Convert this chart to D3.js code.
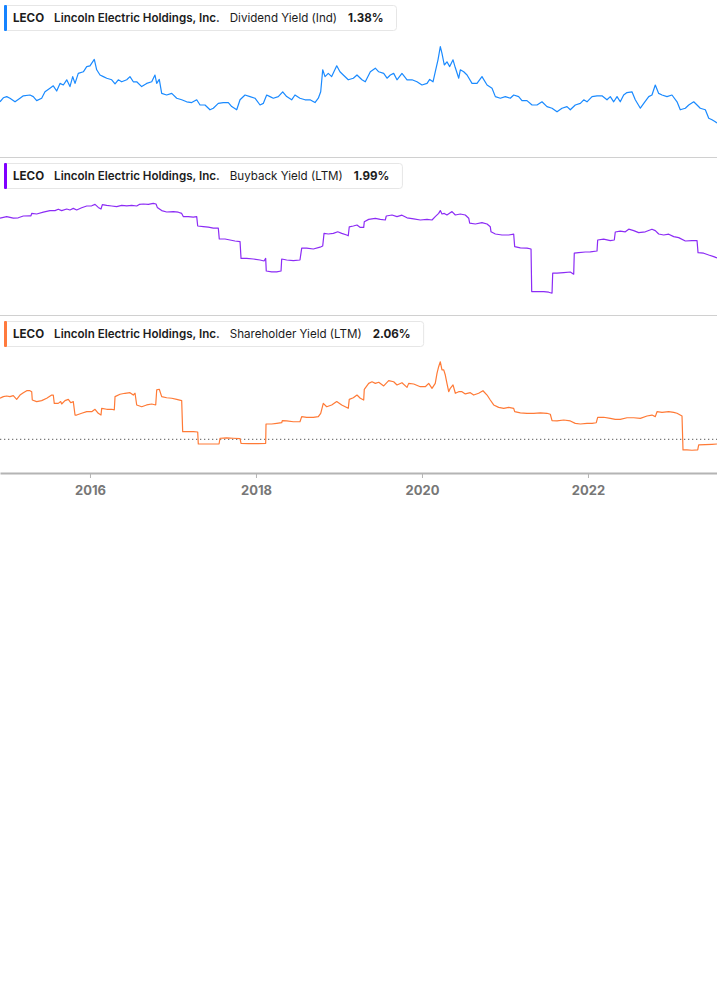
<!DOCTYPE html>
<html>
<head>
<meta charset="utf-8">
<script src="https://cdn.jsdelivr.net/npm/d3@7"></script>
<style>
html,body{margin:0;padding:0;background:#fff;}
svg{display:block;}
text{font-family:Inter,Roboto,"Noto Sans",sans-serif;}
</style>
</head>
<body>
<div id="chart"></div>
<script>
// ---------- DATA ----------
const ticker = "LECO";
const company = "Lincoln Electric Holdings, Inc.";
const metricNames = ["Dividend Yield (Ind)", "Buyback Yield (LTM)", "Shareholder Yield (LTM)"];
const latestValues = ["1.38%", "1.99%", "2.06%"];
const tickYears = [2016, 2018, 2020, 2022];
const xDomain = [2014.916, 2023.5545];

const divYears = [2014.916,2014.956,2014.997,2015.036,2015.097,2015.157,2015.197,2015.277,2015.317,2015.358,2015.418,2015.458,2015.518,2015.558,2015.599,2015.639,2015.679,2015.720,2015.759,2015.792,2015.820,2015.859,2015.920,2015.961,2016.000,2016.052,2016.081,2016.121,2016.161,2016.202,2016.262,2016.302,2016.341,2016.382,2016.443,2016.482,2016.522,2016.563,2016.623,2016.683,2016.744,2016.783,2016.804,2016.835,2016.864,2016.924,2016.985,2017.045,2017.105,2017.165,2017.226,2017.286,2017.326,2017.386,2017.446,2017.486,2017.546,2017.606,2017.667,2017.708,2017.768,2017.808,2017.868,2017.928,2017.988,2018.049,2018.088,2018.129,2018.169,2018.209,2018.269,2018.322,2018.370,2018.430,2018.470,2018.530,2018.591,2018.651,2018.711,2018.751,2018.780,2018.804,2018.832,2018.871,2018.912,2018.973,2019.012,2019.052,2019.112,2019.173,2019.217,2019.277,2019.317,2019.378,2019.438,2019.479,2019.539,2019.579,2019.619,2019.659,2019.699,2019.759,2019.820,2019.880,2019.940,2020.000,2020.061,2020.093,2020.133,2020.160,2020.193,2020.221,2020.241,2020.269,2020.301,2020.334,2020.374,2020.402,2020.443,2020.462,2020.503,2020.543,2020.603,2020.663,2020.723,2020.784,2020.844,2020.884,2020.944,2021.004,2021.064,2021.105,2021.165,2021.205,2021.265,2021.326,2021.386,2021.446,2021.506,2021.567,2021.627,2021.687,2021.747,2021.787,2021.847,2021.908,2021.949,2021.988,2022.049,2022.109,2022.169,2022.229,2022.269,2022.310,2022.350,2022.389,2022.430,2022.470,2022.530,2022.570,2022.631,2022.672,2022.732,2022.771,2022.811,2022.852,2022.892,2022.952,2023.012,2023.073,2023.112,2023.173,2023.214,2023.274,2023.314,2023.353,2023.414,2023.455,2023.494,2023.534,2023.554];
const divYield = [1.91,2.01,2.04,2.00,1.91,2.00,2.06,2.08,2.04,1.94,2.00,2.16,2.25,2.31,2.18,2.37,2.33,2.46,2.29,2.54,2.37,2.62,2.66,2.79,2.81,2.97,2.71,2.58,2.54,2.50,2.46,2.36,2.46,2.41,2.46,2.54,2.41,2.41,2.29,2.37,2.41,2.58,2.37,2.47,2.12,2.08,2.12,2.00,1.96,1.91,1.89,1.96,1.83,1.83,1.71,1.75,1.87,1.89,1.89,1.79,1.71,1.96,2.08,2.04,2.00,1.83,1.87,2.08,2.04,2.00,2.04,2.16,2.04,1.96,2.08,2.00,1.96,1.96,1.89,2.00,2.16,2.71,2.54,2.62,2.54,2.81,2.66,2.58,2.46,2.50,2.58,2.46,2.41,2.66,2.75,2.66,2.62,2.50,2.58,2.62,2.46,2.62,2.46,2.46,2.41,2.33,2.37,2.47,2.41,2.66,2.96,3.29,3.12,2.83,2.91,2.79,2.96,2.76,2.50,2.71,2.66,2.58,2.37,2.37,2.54,2.33,2.25,2.04,2.00,2.04,2.00,2.08,2.04,1.94,1.94,1.83,1.83,1.91,1.79,1.75,1.66,1.75,1.79,1.71,1.83,1.87,1.96,1.91,2.04,2.06,2.06,1.96,2.04,1.91,2.04,1.91,2.08,2.14,2.16,1.96,1.75,1.87,2.04,2.08,2.33,2.12,2.08,2.04,2.08,1.91,1.71,1.75,1.83,1.91,1.83,1.75,1.71,1.50,1.46,1.41,1.38];

const buyYears = [2014.916,2014.997,2015.076,2015.136,2015.197,2015.277,2015.289,2015.298,2015.358,2015.438,2015.518,2015.579,2015.618,2015.659,2015.720,2015.759,2015.799,2015.840,2015.900,2015.961,2016.021,2016.061,2016.100,2016.133,2016.149,2016.202,2016.262,2016.322,2016.382,2016.443,2016.503,2016.563,2016.594,2016.643,2016.703,2016.763,2016.796,2016.811,2016.864,2016.924,2017.004,2017.064,2017.105,2017.124,2017.185,2017.245,2017.286,2017.298,2017.365,2017.426,2017.486,2017.546,2017.558,2017.627,2017.687,2017.747,2017.808,2017.820,2017.888,2017.968,2018.049,2018.097,2018.117,2018.124,2018.189,2018.250,2018.302,2018.310,2018.370,2018.450,2018.530,2018.551,2018.611,2018.691,2018.772,2018.804,2018.820,2018.872,2018.932,2018.985,2019.033,2019.093,2019.112,2019.124,2019.173,2019.217,2019.257,2019.298,2019.305,2019.358,2019.438,2019.498,2019.558,2019.570,2019.639,2019.699,2019.759,2019.820,2019.900,2019.980,2020.061,2020.121,2020.160,2020.201,2020.221,2020.241,2020.269,2020.301,2020.362,2020.402,2020.462,2020.522,2020.563,2020.575,2020.643,2020.723,2020.784,2020.823,2020.832,2020.884,2020.964,2021.045,2021.105,2021.117,2021.185,2021.265,2021.314,2021.322,2021.386,2021.467,2021.527,2021.567,2021.575,2021.627,2021.708,2021.787,2021.828,2021.835,2021.888,2021.968,2022.028,2022.109,2022.117,2022.189,2022.269,2022.317,2022.329,2022.389,2022.450,2022.491,2022.551,2022.611,2022.691,2022.771,2022.811,2022.852,2022.912,2022.973,2023.033,2023.093,2023.173,2023.253,2023.314,2023.326,2023.394,2023.455,2023.515,2023.554];
const buybackYield = [3.98,4.06,3.98,4.00,4.09,4.10,4.10,4.22,4.19,4.28,4.36,4.36,4.43,4.36,4.44,4.39,4.47,4.39,4.50,4.59,4.60,4.67,4.52,4.44,4.66,4.62,4.59,4.56,4.62,4.60,4.62,4.59,4.67,4.69,4.67,4.72,4.69,4.52,4.36,4.29,4.31,4.28,4.22,4.06,4.06,4.03,4.06,3.59,3.56,3.53,3.48,3.49,2.94,2.94,2.89,2.84,2.81,1.97,1.97,1.94,1.89,1.84,1.97,1.34,1.30,1.30,1.34,1.94,1.89,1.86,1.89,2.48,2.48,2.44,2.53,2.59,3.22,3.19,3.22,3.30,3.22,3.14,3.10,3.55,3.59,3.64,3.52,3.52,3.80,3.92,3.97,3.92,3.89,4.09,4.14,4.06,4.13,4.00,3.95,3.89,3.92,3.89,4.06,4.22,4.36,4.19,4.22,4.14,4.31,4.14,4.19,4.14,3.98,3.73,3.69,3.76,3.69,3.55,3.30,3.19,3.14,3.14,3.18,2.56,2.50,2.48,2.44,0.31,0.31,0.31,0.28,0.23,1.23,1.23,1.26,1.29,1.18,2.23,2.26,2.29,2.30,2.34,2.89,2.93,2.86,2.89,3.29,3.33,3.30,3.43,3.36,3.26,3.30,3.43,3.36,3.19,3.14,3.18,3.06,3.01,2.84,2.86,2.86,2.26,2.23,2.14,2.06,1.99];

const shYears = [2014.916,2014.956,2014.997,2015.036,2015.076,2015.117,2015.157,2015.197,2015.238,2015.277,2015.298,2015.305,2015.358,2015.418,2015.479,2015.539,2015.558,2015.570,2015.618,2015.647,2015.659,2015.699,2015.739,2015.768,2015.799,2015.820,2015.840,2015.900,2015.961,2016.021,2016.061,2016.100,2016.133,2016.141,2016.202,2016.262,2016.293,2016.302,2016.362,2016.422,2016.482,2016.522,2016.543,2016.563,2016.623,2016.683,2016.744,2016.792,2016.804,2016.835,2016.864,2016.924,2016.985,2017.045,2017.105,2017.117,2017.185,2017.245,2017.298,2017.305,2017.365,2017.486,2017.555,2017.567,2017.647,2017.727,2017.808,2017.820,2017.908,2018.028,2018.117,2018.121,2018.189,2018.250,2018.310,2018.317,2018.370,2018.450,2018.530,2018.551,2018.611,2018.691,2018.751,2018.780,2018.811,2018.852,2018.912,2018.973,2019.033,2019.112,2019.124,2019.173,2019.217,2019.257,2019.298,2019.305,2019.358,2019.398,2019.438,2019.479,2019.539,2019.599,2019.659,2019.699,2019.759,2019.820,2019.840,2019.900,2019.980,2020.040,2020.081,2020.121,2020.160,2020.181,2020.201,2020.221,2020.241,2020.262,2020.281,2020.301,2020.322,2020.341,2020.374,2020.402,2020.443,2020.482,2020.522,2020.582,2020.623,2020.683,2020.735,2020.784,2020.823,2020.864,2020.924,2020.985,2021.045,2021.105,2021.117,2021.185,2021.265,2021.346,2021.426,2021.506,2021.546,2021.567,2021.627,2021.708,2021.787,2021.847,2021.908,2021.988,2022.049,2022.100,2022.117,2022.189,2022.269,2022.329,2022.389,2022.470,2022.551,2022.631,2022.711,2022.771,2022.811,2022.832,2022.892,2022.973,2023.033,2023.073,2023.133,2023.145,2023.193,2023.253,2023.322,2023.334,2023.414,2023.494,2023.554];
const shareholderYield = [4.92,5.02,5.06,5.02,5.08,4.85,5.12,5.26,5.39,5.39,5.33,4.81,4.71,4.77,4.92,5.12,5.12,4.60,4.60,4.71,4.56,4.77,4.85,4.64,4.71,3.87,3.87,3.98,4.08,4.08,4.23,3.98,3.87,4.29,4.23,4.23,4.19,5.02,5.17,5.23,5.27,5.12,5.23,4.50,4.39,4.50,4.56,4.50,5.44,5.48,5.02,4.95,4.92,4.85,4.77,2.83,2.83,2.83,2.81,2.06,2.06,2.06,2.06,2.42,2.44,2.42,2.39,2.10,2.08,2.08,2.10,3.31,3.31,3.35,3.39,3.52,3.50,3.45,3.45,3.77,3.73,3.73,3.77,3.98,4.60,4.39,4.50,4.71,4.50,4.29,4.85,4.95,5.12,4.92,4.81,5.48,5.85,5.95,5.85,5.92,5.69,6.02,5.95,5.75,5.89,5.60,5.85,5.81,5.64,5.64,5.85,5.54,5.85,6.48,6.89,7.20,6.69,6.69,6.37,5.85,5.33,5.54,5.75,5.23,5.33,5.33,5.19,5.27,5.12,5.23,5.39,5.12,4.81,4.50,4.35,4.29,4.35,4.29,4.08,4.01,3.98,3.98,4.01,3.98,3.92,3.52,3.50,3.56,3.50,3.35,3.31,3.35,3.35,3.39,3.73,3.73,3.66,3.60,3.60,3.70,3.70,3.66,3.81,3.87,3.77,4.08,4.04,4.08,4.04,3.98,3.81,1.69,1.69,1.67,1.69,2.00,2.02,2.04,2.06];
const shareholderRef = 2.35;

// ---------- RENDER ----------
const W = 717, H = 1005;
const svg = d3.select("#chart").append("svg").attr("width", W).attr("height", H);

const x = d3.scaleLinear().domain(xDomain).range([0, W]);

const panels = [
  {top: 0, color: "#1a8aff", bar: "#1583ff", years: divYears, vals: divYield, y: d3.scaleLinear().domain([0.555, 3.605]).range([156, 34])},
  {top: 158, color: "#8c2cf5", bar: "#8000ff", years: buyYears, vals: buybackYield, y: d3.scaleLinear().domain([-0.71, 5.24]).range([312, 193])},
  {top: 316, color: "#ff7a36", bar: "#ff7a3d", years: shYears, vals: shareholderYield, y: d3.scaleLinear().domain([0.3725, 7.935]).range([471, 350])}
];

// separators
[157.5, 315.5].forEach(yy => {
  svg.append("line").attr("x1", 0).attr("x2", W).attr("y1", yy).attr("y2", yy)
    .attr("stroke", "#d0d0d0").attr("stroke-width", 1);
});

panels.forEach((p, i) => {
  const clipId = "clip" + i;
  svg.append("clipPath").attr("id", clipId).append("rect")
    .attr("x", 0).attr("y", p.top + 32).attr("width", W).attr("height", 125);

  if (i === 2) {
    svg.append("line").attr("x1", 0).attr("x2", W)
      .attr("y1", p.y(shareholderRef)).attr("y2", p.y(shareholderRef))
      .attr("stroke", "#7a7a7a").attr("stroke-width", 1.2).attr("stroke-dasharray", "1.3,2.7");
  }

  const pts = p.years.map((yr, k) => [yr, p.vals[k]]);
  const line = d3.line().x(d => x(d[0])).y(d => p.y(d[1]));
  svg.append("path").datum(pts)
    .attr("clip-path", `url(#${clipId})`)
    .attr("d", line).attr("fill", "none")
    .attr("stroke", p.color).attr("stroke-width", 1.2).attr("stroke-linejoin", "round");

  // legend
  const g = svg.append("g").attr("transform", `translate(0,${p.top + 5})`);
  const box = g.append("rect").attr("x", 4.5).attr("y", 0.5).attr("height", 25).attr("rx", 3)
    .attr("fill", "#fff").attr("stroke", "#e6e6e6");
  g.append("rect").attr("x", 4).attr("y", 0).attr("width", 3).attr("height", 26).attr("rx", 1).attr("fill", p.bar);
  const parts = [
    {t: ticker, w: 700},
    {t: company, w: 600},
    {t: metricNames[i], w: 400},
    {t: latestValues[i], w: 700}
  ];
  let cx = 13;
  parts.forEach((pt, k) => {
    const tx = g.append("text").attr("x", cx).attr("y", 16.5)
      .attr("font-size", "11.6px").attr("font-weight", pt.w).attr("fill", "#1c1c1c").text(pt.t);
    cx += tx.node().getComputedTextLength() + (k === 2 ? 11 : 10);
  });
  box.attr("width", cx - 10 + 13 - 4.5);
});

// x axis
const axis = d3.axisBottom(x).tickValues(tickYears).tickFormat(d3.format("d")).tickSize(5).tickSizeOuter(0);
const ag = svg.append("g").attr("transform", "translate(0,473)").call(axis);
ag.select(".domain").attr("stroke", "#b4b4b4").attr("stroke-width", 2);
ag.selectAll(".tick line").attr("stroke", "#b4b4b4").attr("stroke-width", 1);
ag.selectAll(".tick text").attr("fill", "#777").attr("font-size", "13px").attr("font-weight", 700)
  .attr("font-family", "'Open Sans', Roboto, sans-serif").attr("dy", "0").attr("y", 22);
</script>
</body>
</html>
